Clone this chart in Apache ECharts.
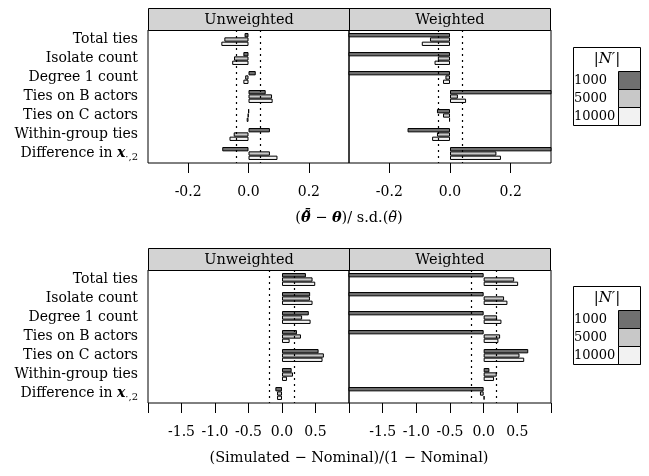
<!DOCTYPE html>
<html>
<head>
<meta charset="utf-8">
<script src="https://cdn.jsdelivr.net/npm/echarts@6/dist/echarts.min.js"></script>
<style>html,body{margin:0;padding:0;background:#fff}#c{width:649px;height:476px}</style>
</head>
<body>
<div id="c"></div>
<script>
// ---- data ----
const categories = ['Total ties','Isolate count','Degree 1 count','Ties on B actors','Ties on C actors','Within-group ties','Difference in x'];
const sizes = ['1000','5000','10000'];
const panels = ['Unweighted','Weighted'];
const topTicks = [-0.2, 0, 0.2];
const topRange = [-0.333, 0.333];
const botRange = [-2, 1];
const botTickStep = 0.5;
const topRef = [-0.044, 0.044];
const botRef = [-0.19, 0.19];

const topUnw1000  = [-0.013, -0.017, 0.024, 0.057, 0.001, 0.071, -0.087];
const topUnw5000  = [-0.080, -0.048, -0.011, 0.078, -0.002, -0.049, 0.071];
const topUnw10000 = [-0.090, -0.054, -0.017, 0.080, -0.006, -0.063, 0.096];
const topW1000    = [-0.60, -0.60, -0.60, 0.60, -0.043, -0.140, 0.60];
const topW5000    = [-0.066, -0.040, -0.015, 0.026, -0.023, -0.043, 0.153];
const topW10000   = [-0.093, -0.051, -0.023, 0.053, -0.003, -0.059, 0.168];
const botUnw1000  = [0.357, 0.420, 0.400, 0.223, 0.546, 0.144, -0.099];
const botUnw5000  = [0.456, 0.417, 0.300, 0.283, 0.625, 0.164, -0.074];
const botUnw10000 = [0.496, 0.456, 0.427, 0.114, 0.605, 0.074, -0.074];
const botW1000    = [-2.5, -2.5, -2.5, -2.5, 0.662, 0.085, -2.5];
const botW5000    = [0.453, 0.303, 0.199, 0.244, 0.532, 0.194, -0.055];
const botW10000   = [0.512, 0.353, 0.264, 0.219, 0.602, 0.154, 0.012];

const botTitle = '(Simulated − Nominal)/(1 − Nominal)';

// ---- styling ----
const FONT = 'DejaVu Serif';
const fills = ['#707070', '#c8c8c8', '#f2f2f2'];
const gridsPos = [
  {left: 148, top: 30, width: 201, height: 133},
  {left: 349, top: 30, width: 202, height: 133},
  {left: 148, top: 270, width: 201, height: 133},
  {left: 349, top: 270, width: 202, height: 133}
];
const panelData = [
  [topUnw1000, topUnw5000, topUnw10000],
  [topW1000, topW5000, topW10000],
  [botUnw1000, botUnw5000, botUnw10000],
  [botW1000, botW5000, botW10000]
];

const grid = gridsPos.map(g => Object.assign({show: true, borderColor: '#000', borderWidth: 1, backgroundColor: 'transparent', containLabel: false}, g));

const xAxis = gridsPos.map((g, i) => {
  const isTop = i < 2;
  const base = {
    type: 'value', gridIndex: i,
    min: isTop ? topRange[0] : botRange[0],
    max: isTop ? topRange[1] : botRange[1],
    splitLine: {show: false},
    axisLine: {show: false},
    axisTick: {show: true, length: 10, lineStyle: {color: '#000', width: 1}},
    axisLabel: {color: '#000', fontFamily: FONT, fontSize: 14, margin: 22, hideOverlap: false,
      showMinLabel: true, showMaxLabel: true}
  };
  if (isTop) {
    base.axisTick.customValues = topTicks;
    base.axisLabel.customValues = topTicks;
    base.axisLabel.formatter = v => v.toFixed(1);
  } else {
    base.interval = botTickStep;
    base.axisLabel.formatter = v => (v <= botRange[0] + 1e-9 || v >= botRange[1] - 1e-9) ? '' : v.toFixed(1);
  }
  return base;
});

const yAxis = gridsPos.map((g, i) => ({
  type: 'category', gridIndex: i, data: categories, inverse: true,
  axisLine: {show: false}, axisTick: {show: false}, splitLine: {show: false},
  axisLabel: {
    show: i % 2 === 0, color: '#000', fontFamily: FONT, fontSize: 14, margin: 10,
    formatter: (v, idx) => idx === categories.length - 1
      ? '{n|Difference in }{b|x}{s|·,2}'
      : '{n|' + v + '}',
    rich: {
      n: {fontFamily: FONT, fontSize: 14, color: '#000'},
      b: {fontFamily: FONT, fontSize: 14, fontWeight: 'bold', fontStyle: 'italic', color: '#000'},
      s: {fontFamily: FONT, fontSize: 10, color: '#000', padding: [7, 0, 0, 0]}
    }
  }
}));

const series = [];
panelData.forEach((arrs, p) => {
  const refs = p < 2 ? topRef : botRef;
  arrs.forEach((arr, k) => {
    const s = {
      type: 'bar', xAxisIndex: p, yAxisIndex: p, data: arr,
      barGap: '0%', barCategoryGap: '32%', clip: true,
      itemStyle: {color: fills[k], borderColor: '#000', borderWidth: 1},
      silent: true, animation: false
    };
    if (k === 2) {
      s.markLine = {
        silent: true, symbol: 'none', animation: false,
        label: {show: false},
        lineStyle: {color: '#000', type: [2, 4], width: 1.2},
        data: refs.map(r => ({xAxis: r}))
      };
    }
    series.push(s);
  });
});

// graphics: strips, titles, legends
const graphic = [];
[8, 248].forEach(y0 => {
  graphic.push({type: 'rect', shape: {x: 148.5, y: y0 + 0.5, width: 402, height: 22}, style: {fill: '#d3d3d3', stroke: '#000', lineWidth: 1}, z: 10});
  graphic.push({type: 'line', shape: {x1: 349.5, y1: y0, x2: 349.5, y2: y0 + 22}, style: {stroke: '#000', lineWidth: 1}, z: 11});
  panels.forEach((t, j) => {
    graphic.push({type: 'text', x: j === 0 ? 249 : 450, y: y0 + 12, z: 12,
      style: {text: t, fontFamily: FONT, fontSize: 14.5, fill: '#000', align: 'center', verticalAlign: 'middle'}});
  });
});
graphic.push({type: 'text', x: 349, y: 218, z: 12, style: {
  text: '{r|(}{b|θ̃̄}{r| − }{b|θ}{r|)/ s.d.(}{i|θ̃}{r|)}', align: 'center', verticalAlign: 'middle',
  rich: {r: {fontFamily: FONT, fontSize: 14.5, fill: '#000'},
         b: {fontFamily: FONT, fontSize: 14.5, fontWeight: 'bold', fontStyle: 'italic', fill: '#000'},
         i: {fontFamily: FONT, fontSize: 14.5, fontStyle: 'italic', fill: '#000'}}
}});
graphic.push({type: 'text', x: 349, y: 458, z: 12, style: {
  text: botTitle, fontFamily: FONT, fontSize: 14.5, fill: '#000', align: 'center', verticalAlign: 'middle'}});

[47, 286].forEach(ly => {
  graphic.push({type: 'rect', shape: {x: 573.5, y: ly + 0.5, width: 67, height: 78}, style: {fill: '#fff', stroke: '#000', lineWidth: 1}, z: 10});
  graphic.push({type: 'text', x: 607, y: ly + 12.5, z: 12, style: {text: "|N′|", fontFamily: FONT, fontSize: 15, fontStyle: 'italic', fill: '#000', align: 'center', verticalAlign: 'middle'}});
  sizes.forEach((s, k) => {
    const ry = ly + 24.5 + k * 18;
    graphic.push({type: 'rect', shape: {x: 618.5, y: ry, width: 22, height: 18}, style: {fill: fills[k], stroke: '#000', lineWidth: 1}, z: 11});
    graphic.push({type: 'text', x: 574, y: ry + 9.5, z: 12, style: {text: s, fontFamily: FONT, fontSize: 13, fill: '#000', align: 'left', verticalAlign: 'middle'}});
  });
});

const chart = echarts.init(document.getElementById('c'), null, {renderer: 'canvas'});
chart.setOption({animation: false, grid, xAxis, yAxis, series, graphic});
</script>
</body>
</html>
